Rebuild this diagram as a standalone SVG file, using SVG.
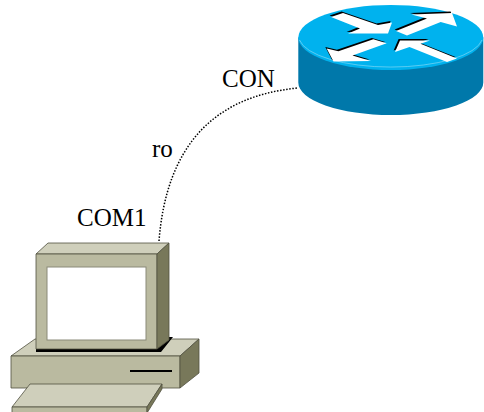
<svg xmlns="http://www.w3.org/2000/svg" xmlns:xlink="http://www.w3.org/1999/xlink" width="484" height="412" viewBox="0 0 484 412">
  <style>
    .label { font-family: "Liberation Serif", "Times New Roman", serif; font-size: 25px; fill: #000; }
    .pc-top { fill: #cfcfbb; stroke: #505040; stroke-width: 0.8; stroke-linejoin: round; }
    .pc-front { fill: #babaa0; stroke: #505040; stroke-width: 0.8; stroke-linejoin: round; }
    .pc-side { fill: #78785a; stroke: #505040; stroke-width: 0.8; stroke-linejoin: round; }
    .rt-top { fill: #00b2ee; }
    .rt-side { fill: #0078aa; }
    .arrow-shadow { fill: #000; }
    .arrow-face { fill: #fff; }
    .link { fill: none; stroke: #000; stroke-width: 1.5; stroke-dasharray: 1.5 1.6; }
  </style>
  <defs>
    <!-- router top-surface arrows, drawn in screen perspective -->
    <polygon id="arrow-nw" points="331,17 343,13 378,25 392,22.5 388,33.5 348,33.5 360,28.5"/>
    <polygon id="arrow-ne" points="396,31 427,18.5 411.5,14.5 452,13 457,26.5 440.7,22 407,35.5"/>
    <polygon id="arrow-sw" points="373.3,39.3 338.4,51.2 326.7,48.5 333.5,61.5 371,61 352.5,55.5 386.7,43.3"/>
    <polygon id="arrow-se" points="400,40.5 430,40.5 420.5,43.8 457,58.5 447,62 409.5,47 395,52"/>
  </defs>

  <!-- connector: console cable -->
  <g id="connectors">
    <path class="link" d="M159,241 Q170,100 298,88"/>
  </g>

  <!-- router -->
  <g id="router">
    <path class="rt-side" d="M298.3,37.5 L298.3,82.5 A92.5,32.5 0 0 0 483.3,82.5 L483.3,37.5 Z"/>
    <ellipse class="rt-top" cx="390.8" cy="37.5" rx="92.5" ry="32.5"/>
    <path d="M299.5,40 A92,31 0 0 0 482,40" fill="none" stroke="#7fd6f4" stroke-width="1" opacity="0.7"/>
    <use href="#arrow-nw" class="arrow-shadow" transform="translate(-1.4,-1.4)"/>
    <use href="#arrow-ne" class="arrow-shadow" transform="translate(-1.4,-1.4)"/>
    <use href="#arrow-sw" class="arrow-shadow" transform="translate(-1.4,-1.4)"/>
    <use href="#arrow-se" class="arrow-shadow" transform="translate(-1.4,-1.4)"/>
    <use href="#arrow-nw" class="arrow-face"/>
    <use href="#arrow-ne" class="arrow-face"/>
    <use href="#arrow-sw" class="arrow-face"/>
    <use href="#arrow-se" class="arrow-face"/>
  </g>

  <!-- PC -->
  <g id="pc">
    <!-- system unit -->
    <polygon class="pc-top" points="11,356 35,339 199,339 180,356"/>
    <rect class="pc-front" x="11" y="356" width="169" height="32"/>
    <polygon class="pc-side" points="180,356 199,339 199,373 180,388"/>
    <line x1="130" y1="371" x2="172" y2="371" stroke="#000" stroke-width="2"/>
    <!-- monitor shadow on the unit -->
    <polygon fill="#000" points="36,348 157,348 169,337 173,337 161,352 36,352"/>
    <!-- monitor -->
    <polygon class="pc-top" points="36,254 48,243 169,243 157,254"/>
    <rect class="pc-front" x="36" y="254" width="121" height="95"/>
    <polygon class="pc-side" points="157,254 169,243 169,340 157,349"/>
    <rect x="47" y="267" width="99" height="73" fill="#fff" stroke="#8a8a78" stroke-width="1"/>
    <!-- keyboard -->
    <polygon class="pc-top" points="12,407 30,384 162,384 147,407"/>
    <rect class="pc-front" x="12" y="407" width="135" height="8"/>
    <polygon class="pc-side" points="147,407 162,384 162,389 147,413"/>
  </g>

  <!-- labels -->
  <g id="labels">
    <text class="label" x="222" y="87">CON</text>
    <text class="label" x="152" y="157">ro</text>
    <text class="label" x="77" y="226">COM1</text>
  </g>
</svg>
